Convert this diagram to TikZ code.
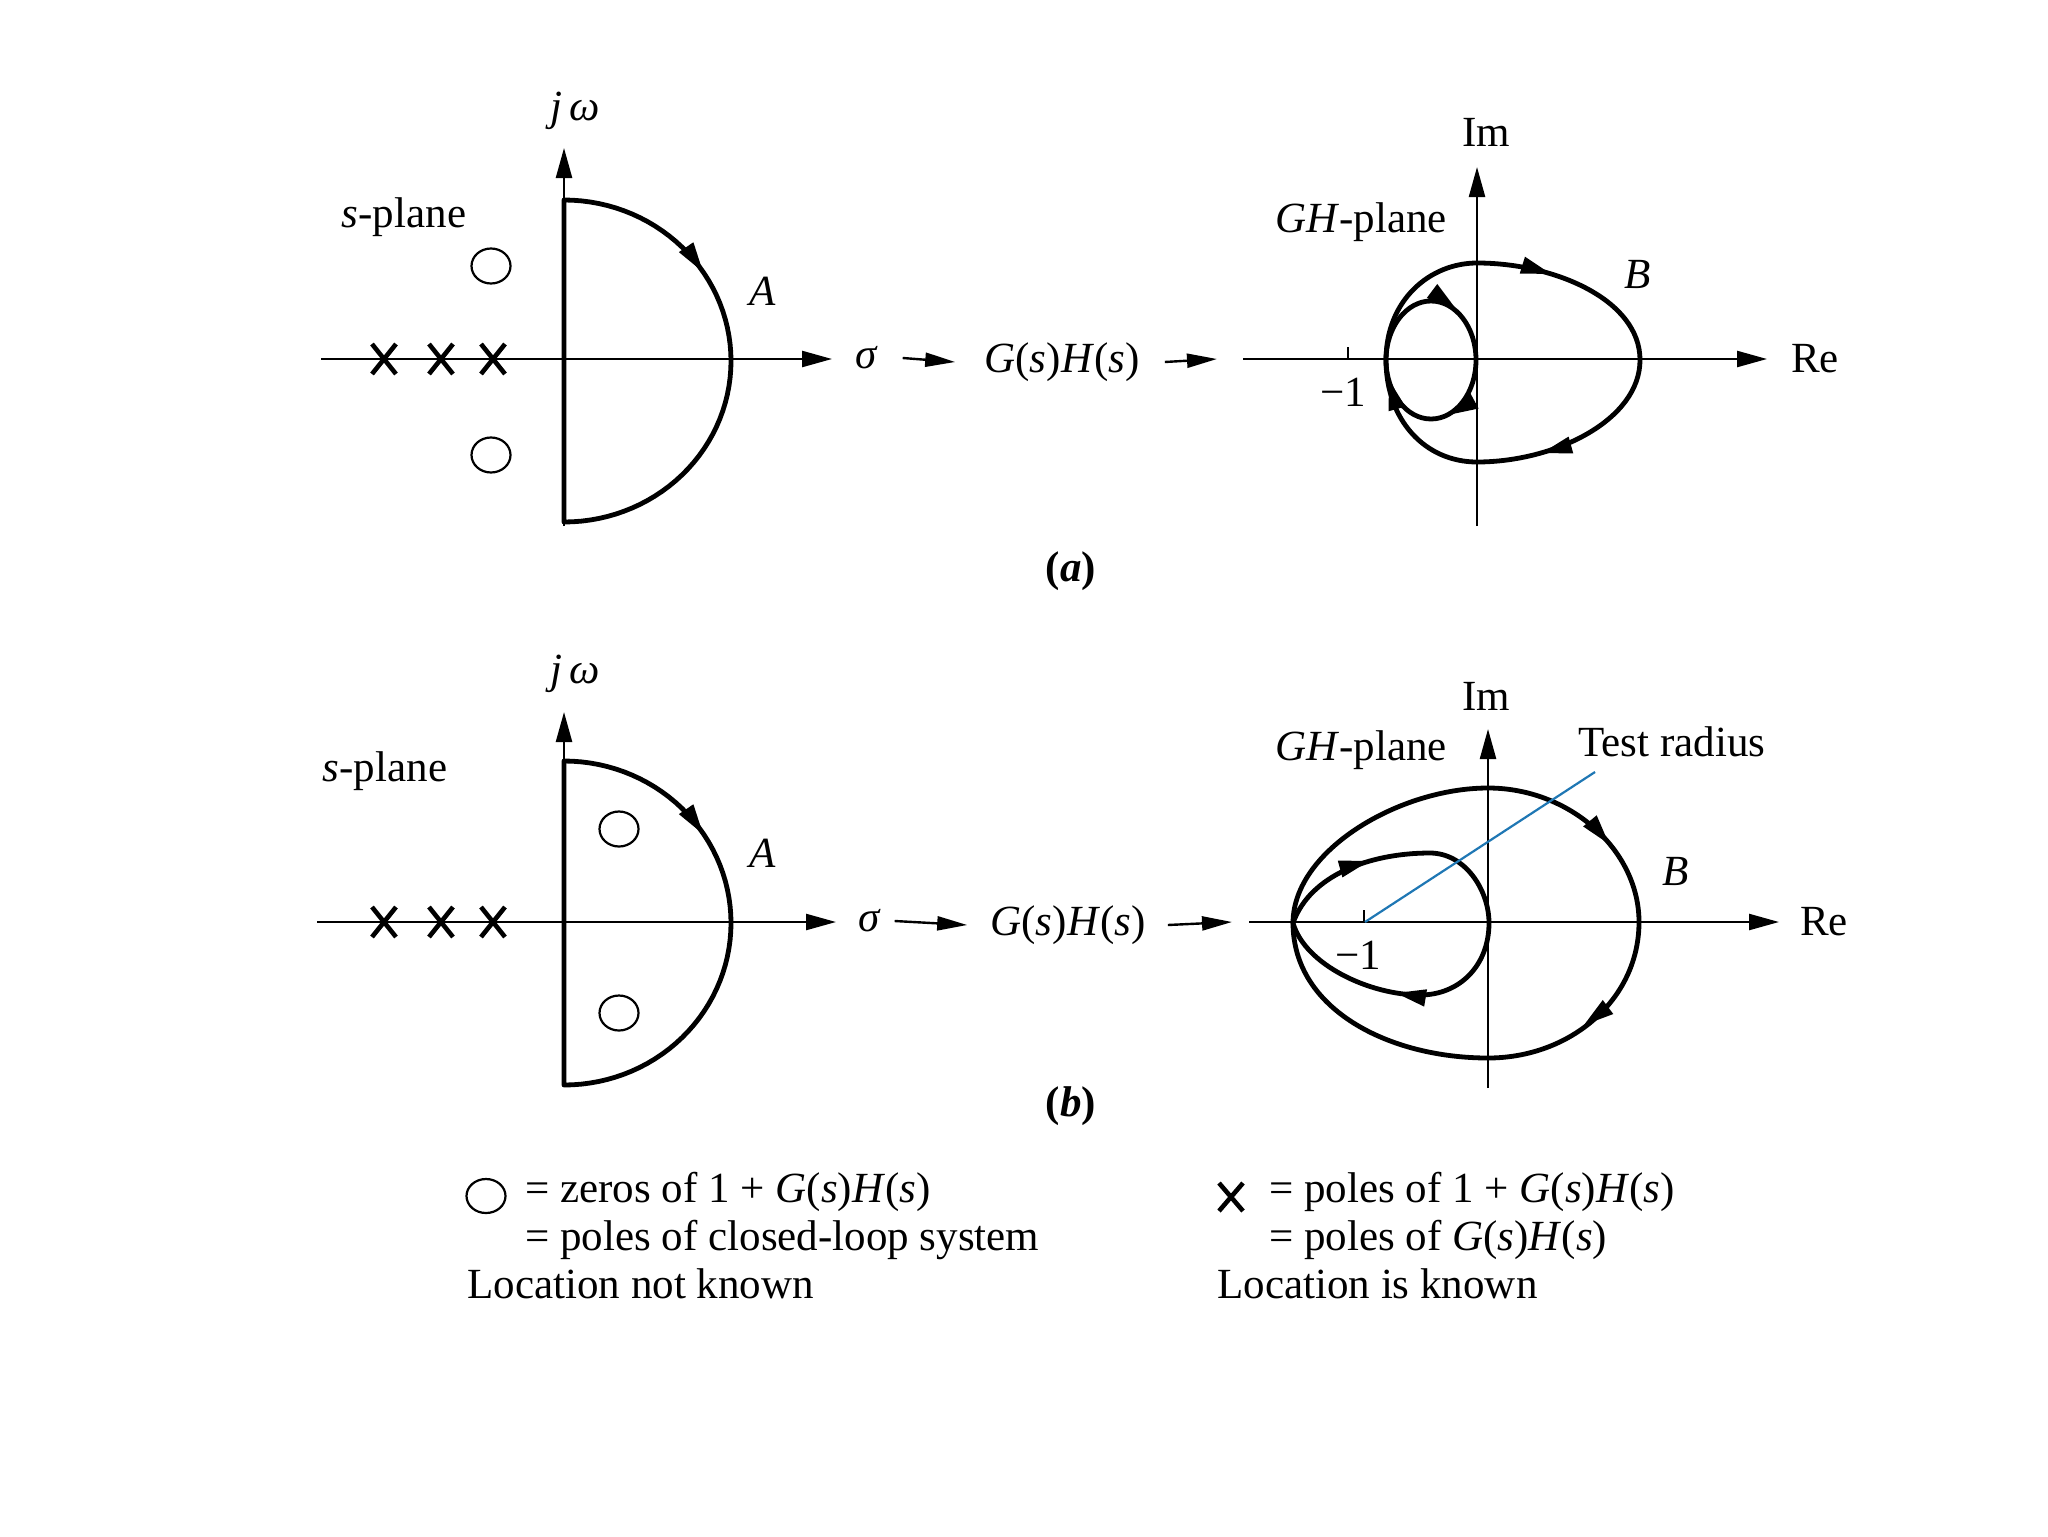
\documentclass[tikz,border=0pt]{standalone}
\usepackage{fontspec}
\setmainfont{Liberation Serif}
\usepackage{tikz}
\usetikzlibrary{arrows.meta}
\definecolor{radiusblue}{RGB}{31,119,180}
\newcommand{\GHs}{\textit{G}(\textit{s})\textit{H}(\textit{s})}

\begin{document}
\begin{tikzpicture}[x=0.5pt,y=-0.5pt,
  lbl/.style={inner sep=0pt,font=\fontsize{21.5}{26}\selectfont},
  axisline/.style={draw=black,line width=1.2pt,-{Triangle[length=15pt,width=8pt]}},
  flowarrow/.style={draw=black,line width=1.2pt,-{Triangle[length=15pt,width=7pt]}},
  contourline/.style={draw=black,line width=2.4pt,line join=round},
  dirtip/.style={draw=black,line width=1pt,-{Triangle[length=15pt,width=8.5pt]}},
  zeromark/.style={draw=black,line width=1.1pt},
  polemark/.style={draw=black,line width=2.3pt}]
\useasboundingbox (0,0) rectangle (2048,1536);
% objects of panel (a), s-plane:
\path[axisline] (321,359) -- (832,359);
\path[axisline] (564,526) -- (564,148);
\path[contourline] plot[domain=-90:90,samples=61] ({564+167*cos(\x)},{361+161*sin(\x)}) -- cycle;
\path[dirtip] (701.3,269.5) -- (703,272);
\path[zeromark] (491,266) ellipse [x radius=9.75pt,y radius=8.75pt];
\path[zeromark] (491,455) ellipse [x radius=9.75pt,y radius=8.75pt];
\foreach \px in {384,441,493}
  \path[polemark] ({\px-12},344) -- ({\px+12},374) ({\px-12},374) -- ({\px+12},344);
\node[lbl] (jwA) at (575,111) {\textit{j\,ω}};
\node[lbl] (splA) at (404,217) {\textit{s}-plane};
\node[lbl] (lblA) at (763,291) {\textit{A}};
\node[lbl] (sigA) at (867,358) {\textit{σ}};
\node[lbl] (ghA) at (1062,362) {\GHs};
\coordinate (reA) at (1243,359);
\draw[flowarrow] ([xshift=12pt]sigA.east) -- ([xshift=-14.5pt]ghA.west);
\draw[flowarrow] ([xshift=12.5pt]ghA.east) -- ([xshift=-13pt]reA);
% objects of panel (a), GH-plane:
\path[axisline] (reA) -- (1767,359);
\path[axisline] (1477,526) -- (1477,167);
\path[draw=black,line width=1.2pt] (1348,359) -- (1348,347);
\path[contourline] (1386,360) .. controls (1386,300) and (1430,263) .. (1477,263)
  .. controls (1555,263) and (1640,300) .. (1640,360)
  .. controls (1640,420) and (1555,462) .. (1477,462)
  .. controls (1425,462) and (1386,420) .. (1386,360) -- cycle;
\path[contourline] (1431,360) ellipse [x radius=22.5pt,y radius=29.5pt];
\path[dirtip] (1548.1,273.1) -- (1551,274);
\path[dirtip] (1544.9,452.2) -- (1542,453);
\path[dirtip] (1453.6,307.2) -- (1456,309);
\path[dirtip] (1450.6,413.6) -- (1448,415);
\path[dirtip] (1389.8,382.9) -- (1389,380);
\node[lbl] (imA) at (1486,132) {Im};
\node[lbl] (ghplA) at (1361,222) {\textit{GH}-plane};
\node[lbl] (lblB) at (1638,274) {\textit{B}};
\node[lbl] (moneA) at (1343,392) {−1};
\node[lbl] (reLA) at (1815,359) {Re};
\node[lbl] (capA) at (1071,571) {\textbf{(\textit{a})}};
% objects of panel (b), s-plane:
\path[axisline] (317,922) -- (836,922);
\path[axisline] (564,1085) -- (564,712);
\path[contourline] plot[domain=-90:90,samples=61] ({564+167*cos(\x)},{923+162*sin(\x)}) -- cycle;
\path[dirtip] (701.3,831.5) -- (703,834);
\path[zeromark] (619,829) ellipse [x radius=9.75pt,y radius=8.75pt];
\path[zeromark] (619,1013) ellipse [x radius=9.75pt,y radius=8.75pt];
\foreach \px in {384,441,493}
  \path[polemark] ({\px-12},907) -- ({\px+12},937) ({\px-12},937) -- ({\px+12},907);
\node[lbl] (jwB) at (575,674) {\textit{j\,ω}};
\node[lbl] (splB) at (385,771) {\textit{s}-plane};
\node[lbl] (lblA2) at (763,853) {\textit{A}};
\node[lbl] (sigB) at (870,921) {\textit{σ}};
\node[lbl] (ghB) at (1068,925) {\GHs};
\coordinate (reB) at (1249,922);
\draw[flowarrow] ([xshift=6.5pt]sigB.east) -- ([xshift=-11.5pt]ghB.west);
\draw[flowarrow] ([xshift=11pt]ghB.east) -- ([xshift=-8.5pt]reB);
% objects of panel (b), GH-plane:
\path[axisline] (reB) -- (1779,922);
\path[axisline] (1488,1088) -- (1488,729);
\path[draw=black,line width=1.2pt] (1364,922) -- (1364,910);
\path[contourline] (1293,923) .. controls (1293,850) and (1400,788) .. (1488,788)
  .. controls (1570,788) and (1639,850) .. (1639,922)
  .. controls (1639,1000) and (1570,1058) .. (1488,1058)
  .. controls (1390,1058) and (1293,1010) .. (1293,923) -- cycle;
\path[contourline] (1293,923) .. controls (1310,875) and (1370,853) .. (1430,853)
  .. controls (1465,853) and (1489,890) .. (1489,923)
  .. controls (1489,965) and (1460,995) .. (1420,995)
  .. controls (1370,995) and (1305,965) .. (1293,923) -- cycle;
\coordinate (mone) at (1365,922);
\path[draw=radiusblue,line width=1.1pt] (mone) -- (1595,772);
\path[dirtip] (1607.1,841.7) -- (1609,844);
\path[dirtip] (1586.4,1023.2) -- (1584,1025);
\path[dirtip] (1366.1,861.8) -- (1369,861);
\path[dirtip] (1399,993.5) -- (1396,993);
\node[lbl] (imB) at (1486,696) {Im};
\node[lbl] (ghplB) at (1361,750) {\textit{GH}-plane};
\node[lbl] (testr) at (1672,742) {Test radius};
\node[lbl] (lblB2) at (1676,871) {\textit{B}};
\node[lbl] (moneB) at (1358,955) {−1};
\node[lbl] (reLB) at (1824,922) {Re};
\node[lbl] (capB) at (1071,1106) {\textbf{(\textit{b})}};
% legend:
\path[zeromark] (486,1196) ellipse [x radius=9.75pt,y radius=8.5pt];
\node[lbl,anchor=base west] (leg1) at (525,1202) {= zeros of 1 + \GHs};
\node[lbl,anchor=base west] (leg2) at (525,1250) {= poles of closed-loop system};
\node[lbl,anchor=base west] (leg3) at (467,1298) {Location not known};
\path[polemark] (1219,1183) -- (1243,1211) (1219,1211) -- (1243,1183);
\node[lbl,anchor=base west] (leg4) at (1269,1202) {= poles of 1 + \GHs};
\node[lbl,anchor=base west] (leg5) at (1269,1250) {= poles of \GHs};
\node[lbl,anchor=base west] (leg6) at (1217,1298) {Location is known};
\end{tikzpicture}
\end{document}
